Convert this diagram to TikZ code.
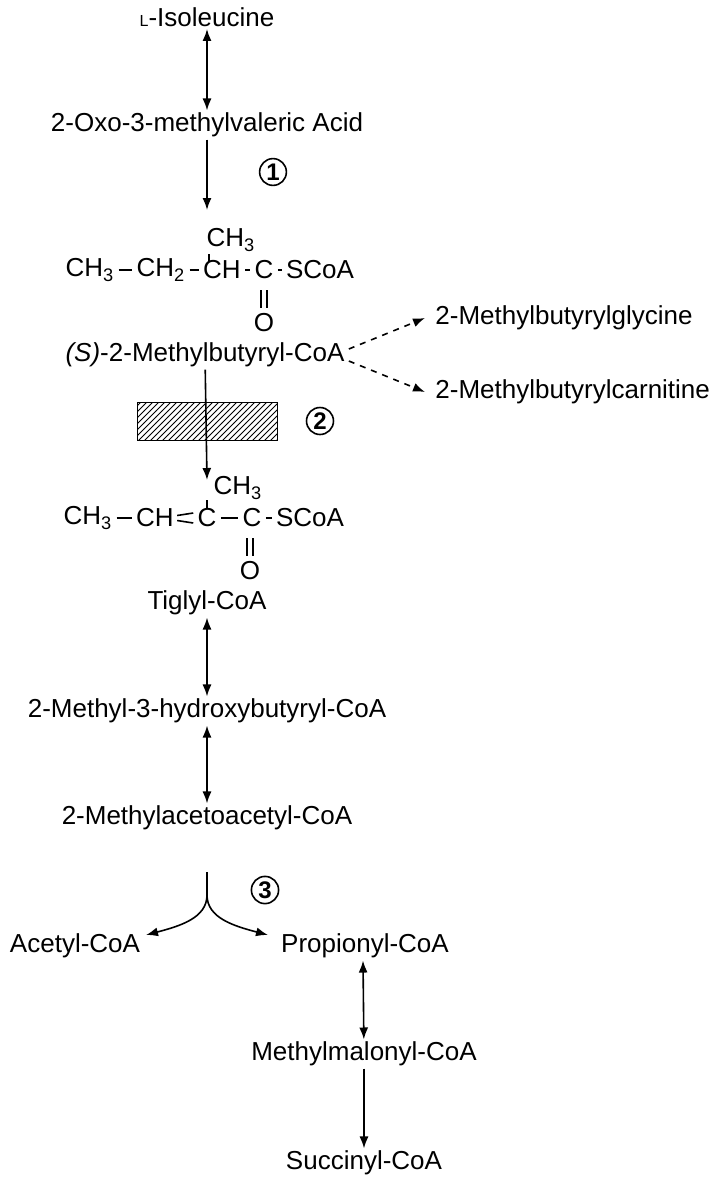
\documentclass[tikz,border=0pt]{standalone}
\usepackage{fontspec}
\setmainfont{Liberation Sans}
\usetikzlibrary{arrows.meta,patterns,positioning}
\begin{document}
\begin{tikzpicture}
    [x=0.5pt,y=-0.5pt,
    every node/.style={font=\fontsize{13}{15}\selectfont,inner sep=1pt},
    conv/.style={-{Latex[length=6pt,width=4.5pt]},thick},
    rev/.style={{Latex[length=6pt,width=4.5pt]}-{Latex[length=6pt,width=4.5pt]},thick},
    side/.style={-{Latex[length=6pt,width=4.5pt]},thick,dashed},
    enzyme/.style={circle,draw,thick,inner sep=1pt,font=\fontsize{12}{14}\selectfont\bfseries},
    bond/.style={thick,shorten <=1pt,shorten >=1pt}]

    \useasboundingbox (0,0) rectangle (713,1185);

    \node (ile)   at (207,17)  {{\footnotesize L}-Isoleucine};
    \node (oxo)   at (207,125) {2-Oxo-3-methylvaleric Acid};
    \draw[rev] (ile) -- (oxo);

    % (S)-2-methylbutyryl-CoA
    \node (a1) at (90,270)  {CH\textsubscript{3}};
    \node (a2) at (161,270) {CH\textsubscript{2}};
    \node (a3) at (222,270) {CH};
    \node (a4) at (264,270) {C};
    \node (a5) at (320,270) {SCoA};
    \node (am) at (231,240) {CH\textsubscript{3}};
    \node (ao) at (264,323) {O};
    \draw[bond] (a1) -- (a2);
    \draw[bond] (a2) -- (a3);
    \draw[bond] (a3) -- (a4);
    \draw[bond] (a4) -- (a5);
    \draw[thick] (209,254) -- (209,262);
    \draw[thick] (261,290) -- (261,308) (267,290) -- (267,308);
    \node (mbc) at (205,355) {\textit{(S)}-2-Methylbutyryl-CoA};
    \draw[conv] (oxo) -- (207,210);
    \node[enzyme] (e1) at (273,172) {1};

    \node[anchor=west] (gly) at (433,318) {2-Methylbutyrylglycine};
    \node[anchor=west] (car) at (433,392) {2-Methylbutyrylcarnitine};
    \draw[side] (mbc.east) ++(2,-6) coordinate (s1) -- ([xshift=-4pt]gly.west);
    \draw[side] (mbc.east) ++(2,6) coordinate (s2) -- ([xshift=-4pt]car.west);

    \draw[pattern=north east lines] (137,402) rectangle (277,440);
    \draw[conv] (mbc) -- (207,480);
    \node[enzyme] (e2) at (320,421) {2};

    % tiglyl-CoA
    \node (b1) at (88,518)  {CH\textsubscript{3}};
    \node (b2) at (155,518) {CH};
    \node (b3) at (207,518) {C};
    \node (b4) at (252,518) {C};
    \node (b5) at (310,518) {SCoA};
    \node (bm) at (238,488) {CH\textsubscript{3}};
    \node (bo) at (250,571) {O};
    \draw[bond] (b1) -- (b2);
    \draw[thick] (b2.east) ++(1,-2.5) -- ([xshift=-1pt,yshift=2.5pt]b3.west);
    \draw[thick] (b2.east) ++(1,2.5) -- ([xshift=-1pt,yshift=-2.5pt]b3.west);
    \draw[bond] (b3) -- (b4);
    \draw[bond] (b4) -- (b5);
    \draw[thick] (207,500) -- (207,508);
    \draw[thick] (247,538) -- (247,556) (253,538) -- (253,556);
    \node (tig) at (207,603) {Tiglyl-CoA};

    \node (hyd) at (207,711) {2-Methyl-3-hydroxybutyryl-CoA};
    \node (mac) at (207,818) {2-Methylacetoacetyl-CoA};
    \draw[rev] (tig) -- (hyd);
    \draw[rev] (hyd) -- (mac);

    \node (ace) at (75,946)   {Acetyl-CoA};
    \node (pro) at (365,946)  {Propionyl-CoA};
    \coordinate (fork) at (207,895);
    \draw[thick] (207,872) -- (fork);
    \draw[conv] (fork) .. controls (207,918) and (180,926) .. (146,935);
    \draw[conv] (fork) .. controls (207,918) and (234,926) .. (268,935);
    \node[enzyme] (e3) at (265,890) {3};

    \node (mmc) at (364,1054) {Methylmalonyl-CoA};
    \node (suc) at (364,1163) {Succinyl-CoA};
    \draw[rev] ([xshift=-1pt]pro.south) -- (mmc);
    \draw[conv] (mmc) -- (suc);
\end{tikzpicture}
\end{document}
